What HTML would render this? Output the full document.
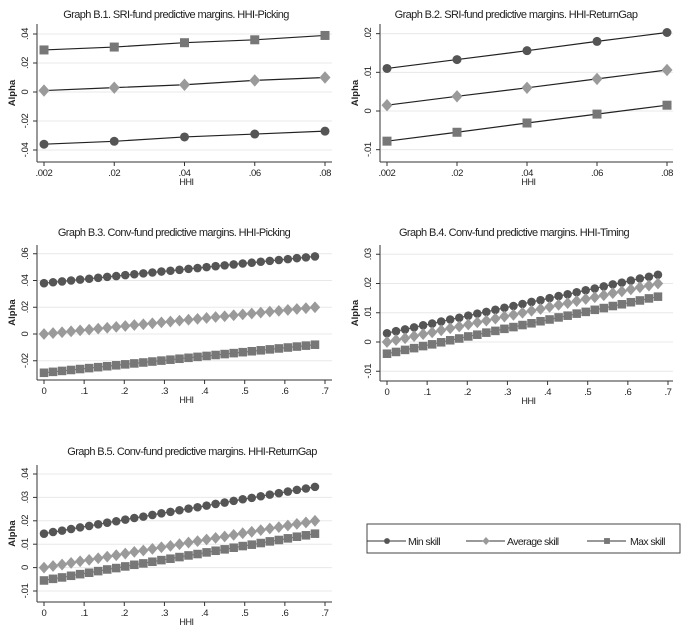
<!DOCTYPE html>
<html><head><meta charset="utf-8"><style>
html,body{margin:0;padding:0;background:#fff;}
svg{display:block;font-family:"Liberation Sans",sans-serif;}
</style></head><body>
<svg id="c" width="685" height="635" viewBox="0 0 685 635"></svg>
<script>
const sriX = [0.002, 0.02, 0.04, 0.06, 0.08];
const b1Min = [-0.036, -0.034, -0.031, -0.029, -0.027];
const b1Avg = [0.001, 0.003, 0.005, 0.008, 0.010];
const b1Max = [0.029, 0.031, 0.034, 0.036, 0.039];
const b2Min = [0.011, 0.0133, 0.0156, 0.018, 0.0203];
const b2Avg = [0.0015, 0.0038, 0.006, 0.0083, 0.0106];
const b2Max = [-0.0078, -0.0055, -0.0031, -0.0008, 0.0015];
const convX = [0,0.0225,0.045,0.0675,0.09,0.1125,0.135,0.1575,0.18,0.2025,0.225,0.2475,0.27,0.2925,0.315,0.3375,0.36,0.3825,0.405,0.4275,0.45,0.4725,0.495,0.5175,0.54,0.5625,0.585,0.6075,0.63,0.6525,0.675];
const b3Min = [0.0380,0.0387,0.0393,0.0400,0.0407,0.0413,0.0420,0.0427,0.0433,0.0440,0.0447,0.0453,0.0460,0.0467,0.0473,0.0480,0.0487,0.0493,0.0500,0.0507,0.0513,0.0520,0.0527,0.0533,0.0540,0.0547,0.0553,0.0560,0.0567,0.0573,0.0580];
const b3Avg = [0.0000,0.0007,0.0013,0.0020,0.0027,0.0033,0.0040,0.0047,0.0053,0.0060,0.0067,0.0073,0.0080,0.0087,0.0093,0.0100,0.0107,0.0113,0.0120,0.0127,0.0133,0.0140,0.0147,0.0153,0.0160,0.0167,0.0173,0.0180,0.0187,0.0193,0.0200];
const b3Max = [-0.0290,-0.0283,-0.0276,-0.0269,-0.0262,-0.0255,-0.0248,-0.0241,-0.0234,-0.0227,-0.0220,-0.0213,-0.0206,-0.0199,-0.0192,-0.0185,-0.0178,-0.0171,-0.0164,-0.0157,-0.0150,-0.0143,-0.0136,-0.0129,-0.0122,-0.0115,-0.0108,-0.0101,-0.0094,-0.0087,-0.0080];
const b4Min = [0.0030,0.0037,0.0043,0.0050,0.0057,0.0063,0.0070,0.0077,0.0083,0.0090,0.0097,0.0103,0.0110,0.0117,0.0123,0.0130,0.0137,0.0143,0.0150,0.0157,0.0163,0.0170,0.0177,0.0183,0.0190,0.0197,0.0203,0.0210,0.0217,0.0223,0.0230];
const b4Avg = [0.0000,0.0007,0.0013,0.0020,0.0027,0.0033,0.0040,0.0047,0.0053,0.0060,0.0067,0.0073,0.0080,0.0087,0.0093,0.0100,0.0107,0.0113,0.0120,0.0127,0.0133,0.0140,0.0147,0.0153,0.0160,0.0167,0.0173,0.0180,0.0187,0.0193,0.0200];
const b4Max = [-0.0040,-0.0034,-0.0027,-0.0021,-0.0014,-0.0008,-0.0001,0.0006,0.0012,0.0019,0.0025,0.0032,0.0038,0.0045,0.0051,0.0058,0.0064,0.0071,0.0077,0.0084,0.0090,0.0097,0.0103,0.0110,0.0116,0.0123,0.0129,0.0136,0.0142,0.0149,0.0155];
const b5Min = [0.0145,0.0152,0.0158,0.0165,0.0172,0.0178,0.0185,0.0192,0.0198,0.0205,0.0212,0.0218,0.0225,0.0232,0.0238,0.0245,0.0252,0.0258,0.0265,0.0272,0.0278,0.0285,0.0292,0.0298,0.0305,0.0312,0.0318,0.0325,0.0332,0.0338,0.0345];
const b5Avg = [0.0000,0.0007,0.0013,0.0020,0.0027,0.0033,0.0040,0.0047,0.0053,0.0060,0.0067,0.0073,0.0080,0.0087,0.0093,0.0100,0.0107,0.0113,0.0120,0.0127,0.0133,0.0140,0.0147,0.0153,0.0160,0.0167,0.0173,0.0180,0.0187,0.0193,0.0200];
const b5Max = [-0.0055,-0.0048,-0.0042,-0.0035,-0.0028,-0.0022,-0.0015,-0.0008,-0.0002,0.0005,0.0012,0.0018,0.0025,0.0032,0.0038,0.0045,0.0052,0.0058,0.0065,0.0072,0.0078,0.0085,0.0092,0.0098,0.0105,0.0112,0.0118,0.0125,0.0132,0.0138,0.0145];
const sriTicks = [".002", ".02", ".04", ".06", ".08"];
const convTicks = ["0", ".1", ".2", ".3", ".4", ".5", ".6", ".7"];
const convTickVals = [0, 0.1, 0.2, 0.3, 0.4, 0.5, 0.6, 0.7];
const b1YTicks = [0.04, 0.02, 0, -0.02, -0.04];
const b1YLabels = [".04", ".02", "0", "-.02", "-.04"];
const b2YTicks = [0.02, 0.01, 0, -0.01];
const b2YLabels = [".02", ".01", "0", "-.01"];
const b3YTicks = [0.06, 0.04, 0.02, 0, -0.02];
const b3YLabels = [".06", ".04", ".02", "0", "-.02"];
const b4YTicks = [0.03, 0.02, 0.01, 0, -0.01];
const b4YLabels = [".03", ".02", ".01", "0", "-.01"];
const b5YTicks = [0.04, 0.03, 0.02, 0.01, 0, -0.01];
const b5YLabels = [".04", ".03", ".02", ".01", "0", "-.01"];

const NS = "http://www.w3.org/2000/svg";
const svg = document.getElementById('c');
function el(tag, attrs, parent) {
  const e = document.createElementNS(NS, tag);
  for (const k in attrs) e.setAttribute(k, attrs[k]);
  (parent || svg).appendChild(e);
  return e;
}
function txt(parent, x, y, s, size, extra) {
  const t = el('text', Object.assign({x: x, y: y, 'font-size': size, fill: '#222', 'text-anchor': 'middle', 'letter-spacing': '-0.4'}, extra || {}), parent);
  t.textContent = s;
  return t;
}
const COL = {min: '#555', avg: '#9a9a9a', max: '#777'};
function marker(g, kind, x, y, s) {
  let m;
  if (kind === 'min') m = el('circle', {cx: x, cy: y, r: s * 0.45, fill: COL.min}, g);
  else if (kind === 'avg') m = el('polygon', {points: `${x},${y - s * 0.62} ${x + s * 0.55},${y} ${x},${y + s * 0.62} ${x - s * 0.55},${y}`, fill: COL.avg}, g);
  else m = el('rect', {x: x - s * 0.45, y: y - s * 0.45, width: s * 0.9, height: s * 0.9, fill: COL.max}, g);
  return m;
}
function panel(p) {
  const g = el('g', {});
  
  
  const xs = p.xscale, ys = v => p.y0 - v * p.k;
  const title = txt(g, p.titleX, p.titleY, p.title, 11, {'letter-spacing': '-0.6'});
  
  
  p.yTicks.forEach((v, i) => {
    const y = ys(v);
    const gl = el('line', {x1: p.ax + 1, x2: p.right, y1: y, y2: y, stroke: '#e8e8e8', 'stroke-width': 1}, g);
    
    
    el('line', {x1: p.ax - 4, x2: p.ax, y1: y, y2: y, stroke: '#333'}, g);
    const lx = p.ax - 9;
    const t = txt(g, lx, y, p.yLabels[i], 9.5, {transform: `rotate(-90 ${lx} ${y})`});
    
    
  });
  const yAxis = el('line', {x1: p.ax, x2: p.ax, y1: p.top, y2: p.axY, stroke: '#333', 'stroke-width': 1}, g);
  
  
  const xAxis = el('line', {x1: p.ax, x2: p.right, y1: p.axY, y2: p.axY, stroke: '#333', 'stroke-width': 1}, g);
  
  
  p.xTickVals.forEach((v, i) => {
    const x = xs(v, i);
    el('line', {x1: x, x2: x, y1: p.axY, y2: p.axY + 4, stroke: '#333'}, g);
    const t = txt(g, x, p.axY + 14, p.xTicks[i], 9.5);
    
    
  });
  const xt = txt(g, (p.ax + p.right) / 2 + 2, p.axY + 23, 'HHI', 9);
  
  
  const yl = p.ax - 22, ym = (p.top + p.axY) / 2;
  const yt = txt(g, yl, ym, 'Alpha', 9.5, {transform: `rotate(-90 ${yl} ${ym})`, 'font-weight': 'bold', 'letter-spacing': '0'});
  
  
  [['min', p.min], ['avg', p.avg], ['max', p.max]].forEach(([kind, vals]) => {
    const sg = el('g', {}, g);
    
    
    const pts = vals.map((v, i) => `${xs(p.x[i], i)},${ys(v)}`).join(' ');
    el('polyline', {points: pts, fill: 'none', stroke: p.lineCol || COL[kind], 'stroke-width': 1.2}, sg);
    vals.forEach((v, i) => {
      const m = marker(sg, kind, xs(p.x[i], i), ys(v), p.ms);
      
      
    });
  });
}
const convScale = (x0, x1) => (v) => x0 + v / 0.7 * (x1 - x0);
panel({name: 'panel-b1', title: 'Graph B.1. SRI-fund predictive margins. HHI-Picking', titleX: 176, titleY: 18,
  ax: 37, right: 332, top: 24, axY: 162, y0: 92, k: 1450, xscale: (v, i) => 44 + i * 70.25,
  x: sriX, xTickVals: sriX, xTicks: sriTicks, yTicks: b1YTicks, yLabels: b1YLabels,
  min: b1Min, avg: b1Avg, max: b1Max, ms: 10, lineCol: '#222'});
panel({name: 'panel-b2', title: 'Graph B.2. SRI-fund predictive margins. HHI-ReturnGap', titleX: 516, titleY: 18,
  ax: 380, right: 673, top: 24, axY: 162, y0: 111, k: 3867, xscale: (v, i) => 387 + i * 70,
  x: sriX, xTickVals: sriX, xTicks: sriTicks, yTicks: b2YTicks, yLabels: b2YLabels,
  min: b2Min, avg: b2Avg, max: b2Max, ms: 10, lineCol: '#222'});
panel({name: 'panel-b3', title: 'Graph B.3. Conv-fund predictive margins. HHI-Picking', titleX: 174, titleY: 236,
  ax: 37, right: 332, top: 245, axY: 380, y0: 334, k: 1337.5, xscale: convScale(44, 325),
  x: convX, xTickVals: convTickVals, xTicks: convTicks, yTicks: b3YTicks, yLabels: b3YLabels,
  min: b3Min, avg: b3Avg, max: b3Max, ms: 9.5});
panel({name: 'panel-b4', title: 'Graph B.4. Conv-fund predictive margins. HHI-Timing', titleX: 514, titleY: 236,
  ax: 380, right: 673, top: 245, axY: 381, y0: 342, k: 2925, xscale: convScale(387, 668),
  x: convX, xTickVals: convTickVals, xTicks: convTicks, yTicks: b4YTicks, yLabels: b4YLabels,
  min: b4Min, avg: b4Avg, max: b4Max, ms: 9.5});
panel({name: 'panel-b5', title: 'Graph B.5. Conv-fund predictive margins. HHI-ReturnGap', titleX: 192, titleY: 455,
  ax: 37, right: 332, top: 465, axY: 602, y0: 567.6, k: 2340, xscale: convScale(44, 325),
  x: convX, xTickVals: convTickVals, xTicks: convTicks, yTicks: b5YTicks, yLabels: b5YLabels,
  min: b5Min, avg: b5Avg, max: b5Max, ms: 9.5});
const lg = el('g', {});


el('rect', {x: 367, y: 524, width: 313, height: 29, fill: '#fff', stroke: '#444', 'stroke-width': 1}, lg);
[['min', 'Min skill', 367, 408], ['avg', 'Average skill', 466, 507], ['max', 'Max skill', 587, 630]].forEach(([k, label, x0, tx]) => {
  const e = el('g', {}, lg);
  
  
  el('line', {x1: x0, x2: x0 + 39, y1: 541, y2: 541, stroke: '#333', 'stroke-width': 1}, e);
  marker(e, k, x0 + 20, 541, 6.5);
  txt(e, tx, 545, label, 10.5, {'text-anchor': 'start', 'letter-spacing': '-0.6'});
});
</script>
</body></html>
